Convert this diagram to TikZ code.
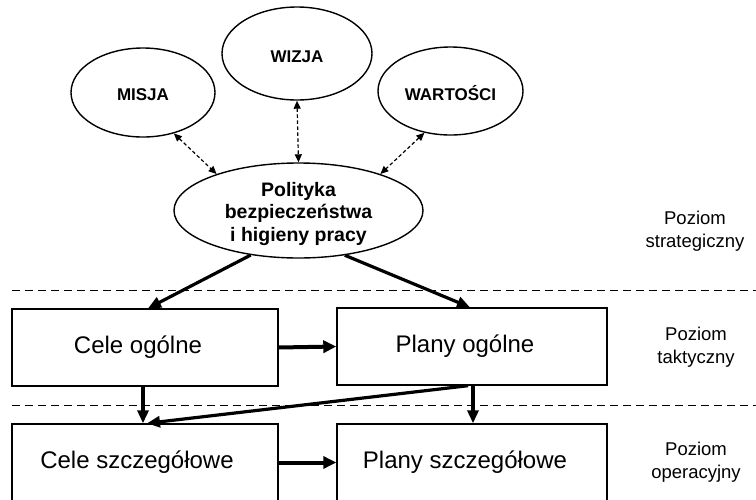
\documentclass[tikz,border=0pt]{standalone}
\usepackage{fontspec}
\setmainfont{Liberation Sans}
\usetikzlibrary{arrows.meta,shapes.geometric,calc}
\begin{document}
\begin{tikzpicture}[x=1pt,y=-1pt,
  oval/.style={draw,ellipse,line width=1.4pt,inner sep=0pt,font=\bfseries\fontsize{17}{20}\selectfont},
  box/.style={draw,rectangle,line width=1.4pt,inner sep=0pt,minimum height=77pt,font=\fontsize{24}{28}\selectfont},
  level/.style={align=center,font=\fontsize{18.5}{23}\selectfont},
  thickarrow/.style={line width=3.2pt,-{Triangle[length=13pt,width=11pt]}},
  flowarrow/.style={line width=4pt,-{Triangle[length=13pt,width=12pt]}},
  dasharrow/.style={line width=1.2pt,dash pattern=on 3.5pt off 2.5pt,{Triangle[length=8pt,width=7pt]}-{Triangle[length=8pt,width=7pt]}},
  divider/.style={line width=1.1pt,dash pattern=on 8pt off 5pt}]
\useasboundingbox (0,0) rectangle (756,499);
% ellipses
\node[oval,minimum width=144pt,minimum height=89pt] (mis) at (143,92.5) {\raisebox{-2.5pt}[\height][\depth]{MISJA}};
\node[oval,minimum width=150pt,minimum height=93pt] (wiz) at (297,53.5) {\raisebox{-3.5pt}[\height][\depth]{WIZJA}};
\node[oval,minimum width=145pt,minimum height=88pt] (war) at (450.5,91) {\raisebox{-2.5pt}[\height][\depth]{WARTOŚCI}};
\node[oval,minimum width=249pt,minimum height=95pt] (pol) at (298.5,210.5) {};
\node[align=center,inner sep=0pt,font=\bfseries\fontsize{19.5}{22.5}\selectfont] (poltext) at (298.5,213.5) {Polityka\\bezpieczeństwa\\i higieny pracy};
% boxes
\node[box,minimum width=266pt] (co) at (145,347.5) {\hspace*{-14pt}Cele ogólne};
\node[box,minimum width=270pt] (po) at (472,346.5) {\hspace*{-14pt}Plany ogólne};
\node[box,minimum width=266pt] (cs) at (145,462.5) {\hspace*{-16pt}Cele szczegółowe};
\node[box,minimum width=270pt] (ps) at (472,462.5) {\hspace*{-14pt}Plany szczegółowe};
% level labels
\node[level] (ls) at (695,231.5) {Poziom\\strategiczny};
\node[level] (lt) at (696,347) {Poziom\\taktyczny};
\node[level] (lo) at (696,462) {Poziom\\operacyjny};
% dividers
\coordinate (d1a) at (12,290.5); \coordinate (d1b) at (756,290.5);
\coordinate (d2a) at (12,405.5); \coordinate (d2b) at (756,405.5);
\draw[divider] (d1a) -- (d1b);
\draw[divider] (d2a) -- (d2b);
% dashed arrows
\draw[dasharrow] (mis.-53) -- (pol.156);
\draw[dasharrow] (wiz.south) -- (pol.north);
\draw[dasharrow] (war.238) -- (pol.24);
% thick arrows
\draw[thickarrow] (pol.223) -- ([xshift=3pt]co.north);
\draw[thickarrow] (pol.-44) -- ([xshift=-2pt]po.north);
\draw[flowarrow] (co.east) -- (po.west);
\draw[thickarrow] ([xshift=-2pt]co.south) -- ([xshift=-2pt]cs.north);
\draw[thickarrow] ([xshift=-4pt]po.south) -- ([xshift=2pt]cs.north);
\draw[thickarrow] ([xshift=1pt]po.south) -- ([xshift=1pt]ps.north);
\draw[flowarrow] (cs.east) -- (ps.west);
\end{tikzpicture}
\end{document}
